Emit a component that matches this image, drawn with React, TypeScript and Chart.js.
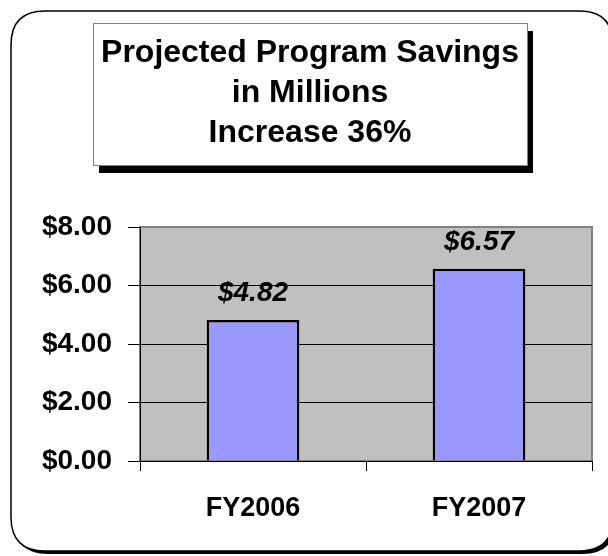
import React, { useEffect, useRef } from "react";
import { Chart, registerables } from "chart.js";

Chart.register(...registerables);

const categories = ["FY2006", "FY2007"];
const savings = [4.82, 6.57];
const yMin = 0;
const yMax = 8;
const yStep = 2;
const titleLines = ["Projected Program Savings", "in Millions", "Increase 36%"];

const FONT = "'Liberation Sans', Arial, Helvetica, sans-serif";

function roundRectPath(ctx: CanvasRenderingContext2D, x: number, y: number, w: number, h: number, r: number) {
  ctx.beginPath();
  ctx.moveTo(x + r, y);
  ctx.lineTo(x + w - r, y);
  ctx.quadraticCurveTo(x + w, y, x + w, y + r);
  ctx.lineTo(x + w, y + h - r);
  ctx.quadraticCurveTo(x + w, y + h, x + w - r, y + h);
  ctx.lineTo(x + r, y + h);
  ctx.quadraticCurveTo(x, y + h, x, y + h - r);
  ctx.lineTo(x, y + r);
  ctx.quadraticCurveTo(x, y, x + r, y);
  ctx.closePath();
}

const framePlugin = {
  id: "frame",
  beforeDraw(chart: any) {
    const ctx: CanvasRenderingContext2D = chart.ctx;
    const { left, top, right, bottom } = chart.chartArea;
    ctx.save();
    ctx.fillStyle = "#ffffff";
    ctx.fillRect(0, 0, chart.width, chart.height);
    // outer rounded frame with shadow
    ctx.fillStyle = "#000000";
    roundRectPath(ctx, 14, 14, 602, 540, 34);
    ctx.fill();
    ctx.fillStyle = "#ffffff";
    roundRectPath(ctx, 11, 11, 602, 540, 34);
    ctx.fill();
    ctx.lineWidth = 1.5;
    ctx.strokeStyle = "#000000";
    ctx.stroke();
    // title box with shadow
    const bx = 93, by = 23, bw = 434, bh = 142;
    ctx.fillStyle = "#000000";
    ctx.fillRect(bx + 6, by + 8, bw, bh);
    ctx.fillStyle = "#ffffff";
    ctx.fillRect(bx, by, bw, bh);
    ctx.strokeStyle = "#808080";
    ctx.lineWidth = 1;
    ctx.strokeRect(bx + 0.5, by + 0.5, bw, bh);
    ctx.fillStyle = "#000000";
    ctx.font = `bold 32px ${FONT}`;
    ctx.textAlign = "center";
    ctx.textBaseline = "alphabetic";
    const cx = bx + bw / 2;
    titleLines.forEach((line, i) => {
      ctx.fillText(line, cx, 62 + i * 40);
    });
    // plot area background
    ctx.fillStyle = "#C0C0C0";
    ctx.fillRect(left, top, right - left, bottom - top);
    ctx.strokeStyle = "#808080";
    ctx.lineWidth = 2;
    ctx.strokeRect(left, top, right - left, bottom - top);
    ctx.restore();
  },
  afterDatasetsDraw(chart: any) {
    const ctx: CanvasRenderingContext2D = chart.ctx;
    const meta = chart.getDatasetMeta(0);
    const data = chart.data.datasets[0].data as number[];
    ctx.save();
    ctx.fillStyle = "#000000";
    ctx.font = `italic bold 28px ${FONT}`;
    ctx.textAlign = "center";
    ctx.textBaseline = "alphabetic";
    meta.data.forEach((bar: any, i: number) => {
      ctx.fillText("$" + data[i].toFixed(2), bar.x, bar.y - 19);
    });
    ctx.restore();
  },
};

export default function App() {
  const ref = useRef<HTMLCanvasElement | null>(null);
  useEffect(() => {
    if (!ref.current) return;
    const chart = new Chart(ref.current, {
      type: "bar",
      data: {
        labels: categories,
        datasets: [
          {
            data: savings,
            backgroundColor: "#9999FF",
            borderColor: "#000000",
            borderWidth: 2.5,
            barPercentage: 0.41,
            categoryPercentage: 1,
          },
        ],
      },
      options: {
        animation: false,
        responsive: false,
        devicePixelRatio: 1,
        layout: { padding: { left: 0, right: 16, top: 227, bottom: 0 } },
        plugins: {
          legend: { display: false },
          title: { display: false },
          tooltip: { enabled: false },
        },
        scales: {
          x: {
            grid: {
              offset: true,
              drawOnChartArea: false,
              drawTicks: true,
              tickLength: 10,
              color: "#000000",
              tickColor: "#000000",
            },
            border: { display: true, color: "#000000", width: 1 },
            ticks: {
              color: "#000000",
              font: { family: FONT, size: 27, weight: "bold" },
              padding: 21,
            },
            afterFit(scale: any) {
              scale.height = 95;
            },
          },
          y: {
            min: yMin,
            max: yMax,
            grid: {
              color: (c: any) => (c.tick && c.tick.value === yMax ? "#808080" : "#000000"),
              tickColor: "#000000",
              tickLength: 12,
              lineWidth: 1,
            },
            border: { display: true, color: "#000000", width: 1 },
            ticks: {
              stepSize: yStep,
              color: "#000000",
              font: { family: FONT, size: 28, weight: "bold" },
              padding: 16,
              callback: (v: any) => "$" + Number(v).toFixed(2),
            },
            afterFit(scale: any) {
              scale.width = 140;
            },
          },
        },
      },
      plugins: [framePlugin],
    });
    return () => chart.destroy();
  }, []);
  return (
    <div style={{ position: "absolute", left: 0, top: 0, width: 608, height: 556 }}>
      <canvas ref={ref} width={608} height={556} style={{ display: "block" }} />
    </div>
  );
}
